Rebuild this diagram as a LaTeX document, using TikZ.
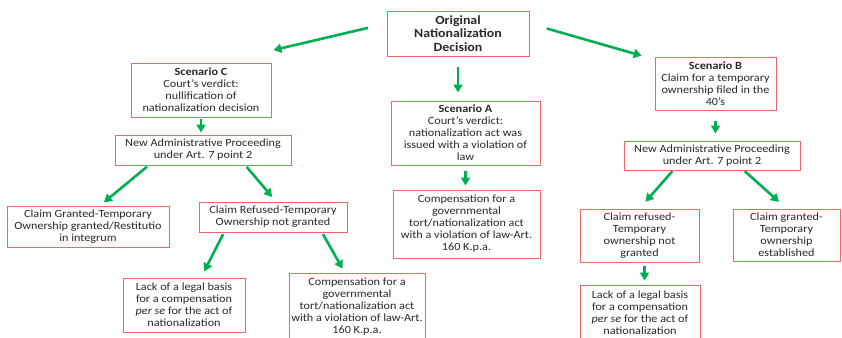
\documentclass[tikz,border=0pt]{standalone}
\usepackage{fontspec}
\setmainfont[FakeStretch=1.11]{Carlito}
\usetikzlibrary{arrows.meta}
\definecolor{boxred}{RGB}{240,100,100}
\definecolor{arrgreen}{RGB}{0,176,80}
\definecolor{txtgray}{RGB}{40,40,40}
\tikzset{
  box/.style={draw=boxred,line width=0.9pt,align=center,inner sep=0pt,
    text=txtgray,font=\fontsize{11}{12}\selectfont},
  arr/.style={draw=arrgreen,line width=2.6pt,-{Triangle[length=8pt,width=9pt]}}
}
\begin{document}
\begin{tikzpicture}[x=1pt,y=-1pt]
  \useasboundingbox (0,0) rectangle (842,337);

  \begin{scope}[every node/.style={box}]
    \node (orig)   at (458,33.5)  [minimum width=142pt,minimum height=45pt,font=\fontsize{12.5}{13.5}\selectfont\bfseries]
      {Original\\Nationalization\\Decision};
    \node (scC)    at (201,90)    [minimum width=140pt,minimum height=54pt]
      {\textbf{Scenario C}\\Court’s verdict:\\nullification of\\nationalization decision};
    \node (scA)    at (465.5,133) [minimum width=149pt,minimum height=64pt]
      {\textbf{Scenario A}\\Court’s verdict:\\nationalization act was\\issued with a violation of\\law};
    \node (scB)    at (715.5,83.5) [minimum width=121pt,minimum height=53pt]
      {\textbf{Scenario B}\\Claim for a temporary\\ownership filed in the\\40’s};
    \node (napC)   at (203,150)   [minimum width=176pt,minimum height=30pt]
      {New Administrative Proceeding\\under Art. 7 point 2};
    \node (napB)   at (712,155.5) [minimum width=176pt,minimum height=29pt]
      {New Administrative Proceeding\\under Art. 7 point 2};
    \node (compA)  at (466.5,224) [minimum width=147pt,minimum height=68pt]
      {Compensation for a\\governmental\\tort/nationalization act\\with a violation of law-Art.\\160 K.p.a.};
    \node (grantC) at (88,226.5)  [minimum width=162pt,minimum height=41pt]
      {Claim Granted-Temporary\\Ownership granted/Restitutio\\in integrum};
    \node (refC)   at (273,217)   [minimum width=148pt,minimum height=30pt]
      {Claim Refused-Temporary\\Ownership not granted};
    \node (refB)   at (639.5,235.5) [minimum width=119pt,minimum height=53pt]
      {Claim refused-\\Temporary\\ownership not\\granted};
    \node (grantB) at (786.5,235) [minimum width=107pt,minimum height=52pt]
      {Claim granted-\\Temporary\\ownership\\established};
    \node (lackC)  at (184,305)   [minimum width=122pt,minimum height=54pt]
      {Lack of a legal basis\\for a compensation\\\textit{per se} for the act of\\nationalization};
    \node (compC)  at (357,306.5) [minimum width=136pt,minimum height=66pt]
      {Compensation for a\\governmental\\tort/nationalization act\\with a violation of law-Art.\\160 K.p.a.};
    \node (lackB)  at (640,313)   [minimum width=120pt,minimum height=56pt]
      {Lack of a legal basis\\for a compensation\\\textit{per se} for the act of\\nationalization};
  \end{scope}

  \begin{scope}[every edge/.style={arr}]
    % first level
    \path ([yshift=10pt]orig.west) edge[shorten <=19pt,shorten >=2pt] ([yshift=12pt]scC.north east);
    \path (orig.south) edge[shorten <=11pt,shorten >=8pt] (orig.south |- scA.north);
    \path ([yshift=10pt]orig.east) edge[shorten <=18pt,shorten >=3pt] ([xshift=-10pt]scB.north west);
    % scenario C
    \path (scC.south) edge[shorten <=2pt,shorten >=2pt] (scC.south |- napC.north);
    \path ([xshift=34pt]napC.south west) edge[shorten <=2pt,shorten >=5pt] ([xshift=12pt]grantC.north);
    \path ([xshift=-46pt]napC.south east) edge[shorten <=2pt,shorten >=6pt] ([xshift=3pt]refC.north);
    \path ([xshift=-49pt]refC.south) edge[shorten <=2pt,shorten >=7pt] ([xshift=17pt]lackC.north);
    \path ([xshift=49pt]refC.south) edge[shorten <=2pt,shorten >=5pt] ([xshift=-12pt]compC.north);
    % scenario A
    \path (scA.south) edge[shorten <=6pt,shorten >=4pt] (scA.south |- compA.north);
    % scenario B
    \path (scB.south) edge[shorten <=11pt,shorten >=7pt] (scB.south |- napB.north);
    \path ([xshift=-39pt]napB.south) edge[shorten <=1pt,shorten >=9pt] (refB.north);
    \path ([xshift=32pt]napB.south) edge[shorten <=1pt,shorten >=10pt] (grantB.north);
    \path ([xshift=5pt]refB.south) edge[shorten <=4pt,shorten >=4pt] ([xshift=5pt]refB.south |- lackB.north);
  \end{scope}

\end{tikzpicture}
\end{document}
